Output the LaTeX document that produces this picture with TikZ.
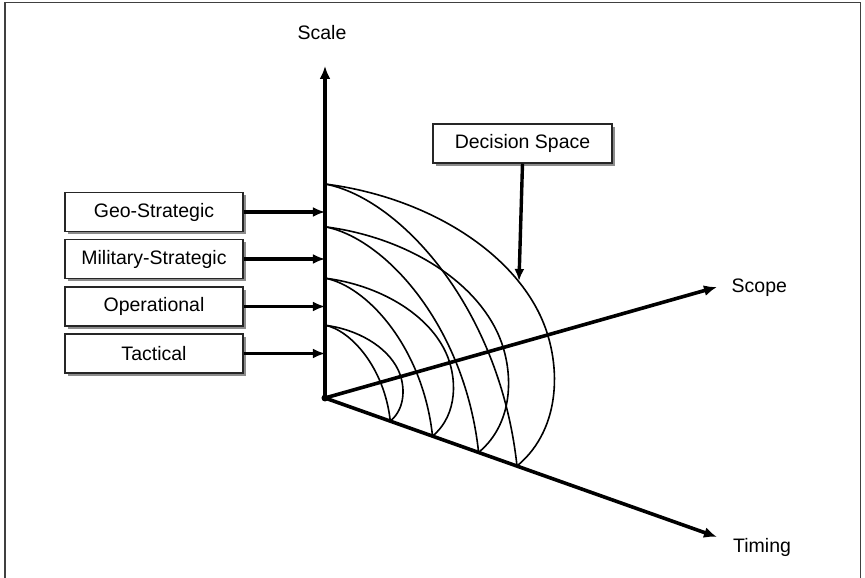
\documentclass[tikz,border=0pt]{standalone}
\usepackage{fontspec}
\setmainfont{Liberation Sans}
\usetikzlibrary{arrows.meta,shadows}

\begin{document}
\begin{tikzpicture}
    [ x=1pt, y=1pt,
      font={\fontsize{19.5}{23}\selectfont},
      frame/.style={draw=black!75, line width=1.5pt},
      axis/.style={black, line width=3.6pt, -{Latex[length=13pt, width=11pt]}},
      pointer/.style={black, line width=3.4pt, -{Latex[length=12pt, width=10pt]}},
      level/.style={draw=black!85, line width=1.5pt, fill=white,
          minimum width=178pt, minimum height=39pt, inner sep=0pt,
          drop shadow={shadow xshift=3pt, shadow yshift=-3pt, fill=black!45, opacity=1}},
      shell/.style={black, line width=1.6pt},
      axislabel/.style={anchor=base west, inner sep=0pt}
    ]
    \useasboundingbox (-325, -180) rectangle (540, 398);

    % Frame
    \draw[frame] (-320, -182) -- (-320, 395.5) -- (535.5, 395.5) -- (535.5, -182);

    % Decision shells
    \foreach \r in {1, 0.8, 0.56, 0.34} {
        \draw[shell, scale=\r]
            (0, 214) .. controls (95, 202) and (182, 152) .. (215, 83)
            .. controls (236.5, 38) and (238, -30) .. (192, -68);
        \draw[shell, scale=\r]
            (0, 214) .. controls (75, 200) and (175, 90) .. (192, -68);
    }

    % Axes
    \coordinate (O) at (0, 0);
    \coordinate (scaletip) at (0, 332);
    \coordinate (scopetip) at (392, 111);
    \coordinate (timingtip) at (392, -139);
    \draw[axis] (O) -- (scaletip);
    \draw[axis] (O) -- (scopetip);
    \draw[axis] (O) -- (timingtip);
    \fill (O) circle (3.5);
    \node[anchor=base, inner sep=0pt] (scalelbl) at (-3, 358) {Scale};
    \node[axislabel] (scopelbl) at (406.5, 105.3) {Scope};
    \node[axislabel] (timinglbl) at (408, -155) {Timing};

    % Levels
    \node[level] (geo) at (-171, 186) {Geo-Strategic};
    \node[level] (mil) at (-171, 139) {Military-Strategic};
    \node[level] (ops) at (-171, 91.5) {Operational};
    \node[level] (tac) at (-171, 44.5) {Tactical};
    \foreach \n in {geo, mil, ops, tac} {
        \draw[pointer] (\n.east) -- (\n.east -| O);
    }

    % Decision space
    \node[level, minimum width=179pt] (dspace) at (197.5, 254.5) {Decision Space};
    \coordinate (dtip) at (194, 117);
    \draw[pointer] (dspace.south) -- (dtip);

\end{tikzpicture}
\end{document}
